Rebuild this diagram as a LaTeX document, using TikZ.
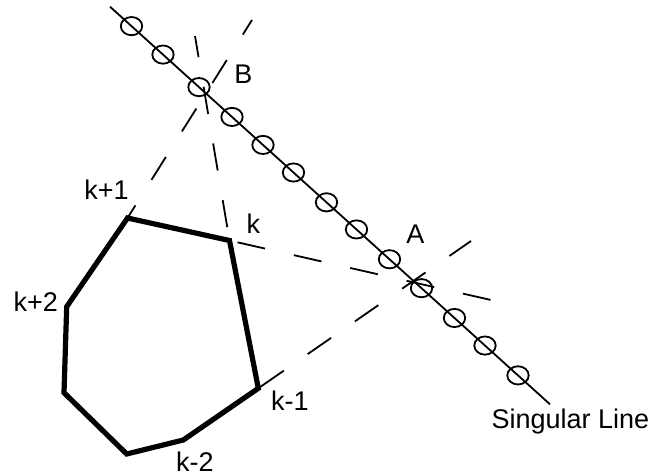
\documentclass[tikz,border=0pt]{standalone}
\usepackage{fontspec}
\setmainfont{Liberation Sans}
\usetikzlibrary{shapes.geometric}
\begin{document}
\begin{tikzpicture}[x=1pt,y=-1pt,
  poly/.style={line width=5.2pt, line join=miter},
  sing/.style={line width=1.8pt},
  ring/.style={draw, ellipse, line width=1.8pt, inner sep=0pt, minimum width=21.4pt, minimum height=18.2pt},
  dsh/.style={line width=1.8pt},
  lbl/.style={inner sep=0pt, anchor=base, font=\fontsize{27}{32}\selectfont}]
\useasboundingbox (0,0) rectangle (657,476);
% polygon vertices
\coordinate (v1) at (127.5,218);
\coordinate (v0) at (229.5,240.5);
\coordinate (vm1) at (258.3,388.3);
\coordinate (vm2) at (183.3,440);
\coordinate (vb) at (126.7,454);
\coordinate (vl) at (64,392.7);
\coordinate (v2) at (66.7,306.7);
\draw[poly] (v1) -- (v0) -- (vm1) -- (vm2) -- (vb) -- (vl) -- (v2) -- cycle;
% singular line
\coordinate (s0) at (110,6.7);
\coordinate (s1) at (550,404.3);
\draw[sing] (s0) -- (s1);
\foreach \x [count=\i] in {131.5,163,199,232,263,293.5,326.5,356.5,389.5,421.5,454.5,485,518}
  \node[ring] (c\i) at (\x,{6.7+0.9036*(\x-110)}) {};
% dashed construction lines
\coordinate (eB1) at (252,20);
\coordinate (eB2) at (195,36);
\coordinate (eA1) at (491,300);
\coordinate (eA2) at (471,241);
\draw[dsh, dash pattern=on 27pt off 30.2pt, dash phase=12.1pt] (v1) -- (eB1);
\draw[dsh, dash pattern=on 27.5pt off 30pt, dash phase=44.1pt] (v0) -- (eB2);
\draw[dsh, dash pattern=on 28.3pt off 29.5pt, dash phase=49.6pt] (v0) -- (eA1);
\draw[dsh, dash pattern=on 28.5pt off 29pt, dash phase=55pt] (vm1) -- (eA2);
% labels
\node[lbl] (lB) at (243.3,83.3) {B};
\node[lbl] (lA) at (415.5,244) {A};
\node[lbl] (lk1) at (106.4,199.3) {k+1};
\node[lbl] (lk) at (253.3,233.3) {k};
\node[lbl] (lk2) at (35.8,311.7) {k+2};
\node[lbl] (lkm1) at (290,410) {k-1};
\node[lbl] (lkm2) at (195,471) {k-2};
\node[lbl, anchor=base west] (lsing) at (491.4,428) {Singular Line};
\end{tikzpicture}
\end{document}
